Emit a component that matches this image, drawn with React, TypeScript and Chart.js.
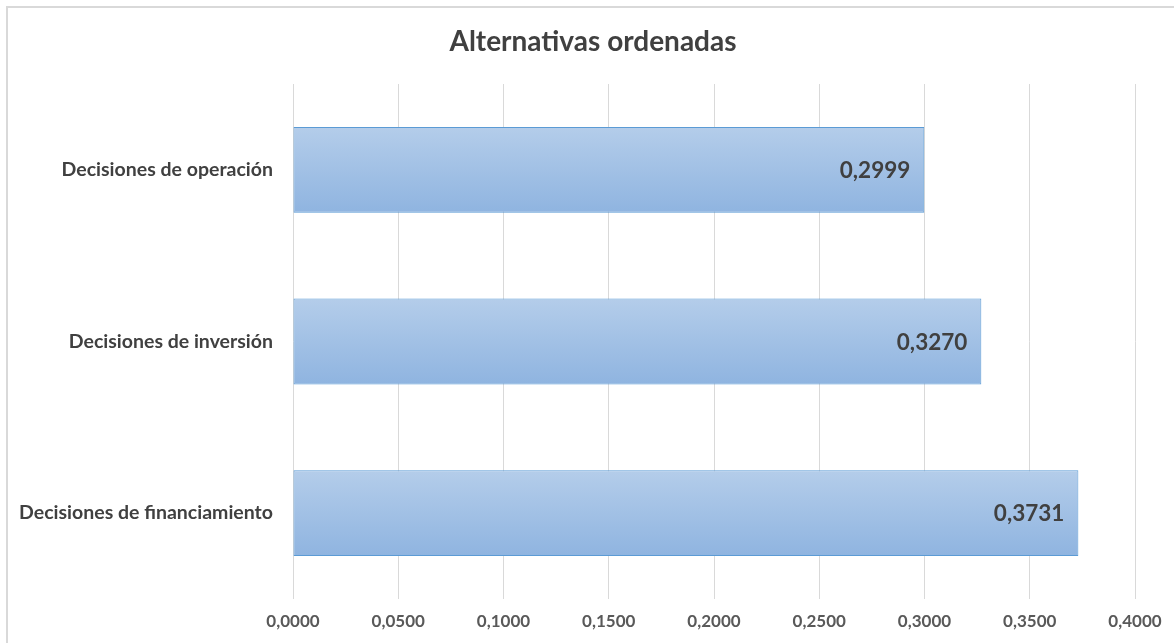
import { useEffect, useRef } from "react";
import { Chart, registerables } from "chart.js";

Chart.register(...registerables);

const chartTitle = "Alternativas ordenadas";
const categories = [
  "Decisiones de operación",
  "Decisiones de inversión",
  "Decisiones de financiamiento",
];
const values = [0.2999, 0.327, 0.3731];
const xMin = 0;
const xMax = 0.4;
const xStep = 0.05;

const fmt = (v: number) => Number(v).toFixed(4).replace(".", ",");

export default function App() {
  const ref = useRef<HTMLCanvasElement | null>(null);

  useEffect(() => {
    if (!ref.current) return;
    Chart.defaults.font.family = "Lato, 'Open Sans', sans-serif";

    const decor = {
      id: "decor",
      beforeDraw(chart: any) {
        const c = chart.ctx;
        c.save();
        c.fillStyle = "#ffffff";
        c.fillRect(0, 0, chart.width, chart.height);
        c.fillStyle = "#d9d9d9";
        c.fillRect(6, 6, chart.width, 2);
        c.fillRect(6, 6, 2, chart.height);
        c.restore();
      },
      afterDatasetsDraw(chart: any) {
        const c = chart.ctx;
        const meta = chart.getDatasetMeta(0);
        c.save();
        c.font = "bold 22.5px Lato, sans-serif";
        c.fillStyle = "#404040";
        c.textAlign = "right";
        c.textBaseline = "middle";
        meta.data.forEach((el: any, i: number) => {
          c.fillText(fmt(values[i]), el.x - 14, el.y + 1);
        });
        c.restore();
      },
      afterDraw(chart: any) {
        const c = chart.ctx;
        c.save();
        c.font = "bold 28px Lato, sans-serif";
        c.fillStyle = "#404040";
        c.textAlign = "center";
        c.textBaseline = "middle";
        c.fillText(chartTitle, 593, 42);
        c.restore();
      },
    };

    const chart = new Chart(ref.current, {
      type: "bar",
      data: {
        labels: categories,
        datasets: [
          {
            data: values,
            backgroundColor: (ctx: any) => {
              const chart = ctx.chart;
              const yScale = chart.scales?.y;
              if (!yScale || !chart.chartArea) return "#a3c2e6";
              const center = yScale.getPixelForValue(ctx.dataIndex);
              const half = (yScale.height / categories.length) * 0.25;
              const g = chart.ctx.createLinearGradient(0, center - half, 0, center + half);
              g.addColorStop(0, "#b4cdea");
              g.addColorStop(1, "#8fb4e0");
              return g;
            },
            borderColor: "#5b9bd5",
            borderWidth: 1,
            borderSkipped: false,
            categoryPercentage: 1,
            barPercentage: 0.5,
          },
        ],
      },
      options: {
        indexAxis: "y",
        responsive: false,
        animation: false,
        devicePixelRatio: 1,
        layout: { padding: { top: 84, right: 39, bottom: 0, left: 0 } },
        plugins: {
          legend: { display: false },
          tooltip: { enabled: false },
          title: { display: false },
        },
        scales: {
          x: {
            min: xMin,
            max: xMax,
            ticks: {
              stepSize: xStep,
              padding: 12,
              color: "#595959",
              font: { size: 17, weight: "bold" },
              callback: (v: any) => fmt(v),
            },
            grid: { color: "#d9d9d9", lineWidth: 1, drawTicks: false },
            border: { display: false },
            afterFit: (s: any) => {
              s.height = 44;
            },
          },
          y: {
            ticks: {
              padding: 20,
              color: "#404040",
              font: { size: 19.5, weight: "bold" },
            },
            grid: { display: false, drawTicks: false },
            border: { display: false },
            afterFit: (s: any) => {
              s.width = 293;
            },
          },
        },
      },
      plugins: [decor],
    } as any);

    return () => chart.destroy();
  }, []);

  return (
    <div style={{ position: "fixed", left: 0, top: 0, width: 1174, height: 643 }}>
      <canvas ref={ref} width={1174} height={643} style={{ display: "block" }} />
    </div>
  );
}
